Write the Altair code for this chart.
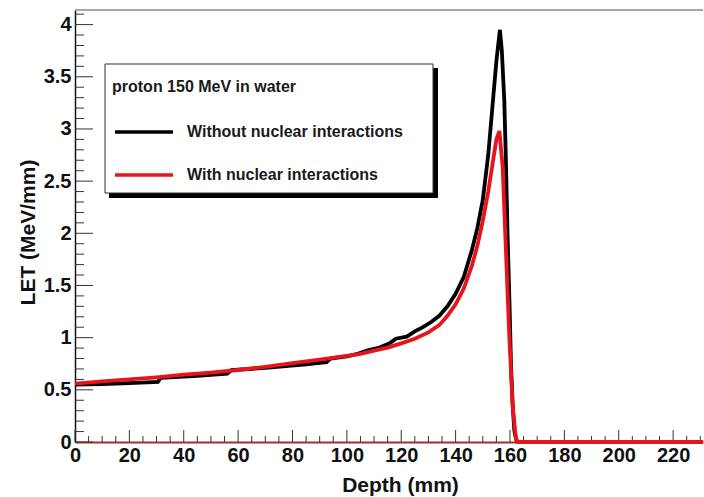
import altair as alt
import pandas as pd

# ---- data ----
depth_black = [0, 10, 20, 30.5, 31.5, 45, 56, 57.5, 70, 85, 92.5, 94, 100, 104, 108, 112,
               116, 118, 122, 125, 128, 131, 134, 137, 140, 143, 146, 148, 150, 152, 153.5,
               155, 156.3, 157, 157.9, 158.5, 159.1, 159.8, 160.4, 161, 161.6, 162.3, 163, 231]
let_black = [0.55, 0.555, 0.565, 0.575, 0.615, 0.635, 0.655, 0.69, 0.71, 0.745, 0.765, 0.80,
             0.82, 0.845, 0.88, 0.905, 0.95, 0.99, 1.01, 1.06, 1.10, 1.15, 1.21, 1.30, 1.42,
             1.58, 1.84, 2.05, 2.32, 2.75, 3.2, 3.65, 3.95, 3.75, 3.28, 2.7, 2.0, 1.35, 0.72,
             0.35, 0.11, 0.02, 0.0, 0.0]

depth_red = [0, 10, 20, 30, 40, 50, 60, 70, 80, 90, 100, 105, 110, 115, 120, 125, 130, 134,
             137, 140, 143, 146, 148, 150, 152, 153.5, 155, 156.1, 157.3, 158.5, 159.7, 161,
             162.2, 163, 231]
let_red = [0.56, 0.58, 0.60, 0.62, 0.645, 0.665, 0.69, 0.72, 0.755, 0.79, 0.825, 0.845, 0.875,
           0.905, 0.945, 0.99, 1.05, 1.12, 1.21, 1.32, 1.47, 1.69, 1.88, 2.12, 2.40, 2.65, 2.90,
           2.98, 2.64, 1.84, 1.04, 0.34, 0.03, 0.0, 0.0]

x_labels = [0, 20, 40, 60, 80, 100, 120, 140, 160, 180, 200, 220]
x_minor = [v for v in range(0, 231, 5) if v % 20 != 0]
y_labels = [0, 0.5, 1, 1.5, 2, 2.5, 3, 3.5, 4]
y_minor = [round(i * 0.1, 1) for i in range(0, 42) if i % 5 != 0]

legend_title = "proton 150 MeV in water"
legend_labels = ["Without nuclear interactions", "With nuclear interactions"]
legend_colors = ["#000000", "#e8131b"]

X_DOMAIN = [0, 231]
Y_DOMAIN = [0, 4.14]
W, H = 628, 432
FONT = "Liberation Sans"

xs = alt.Scale(domain=X_DOMAIN, nice=False, zero=False)
ys = alt.Scale(domain=Y_DOMAIN, nice=False, zero=False)

black_df = pd.DataFrame({"d": depth_black, "v": let_black})
red_df = pd.DataFrame({"d": depth_red, "v": let_red})

x_axis = alt.Axis(values=x_labels, ticks=False, grid=False, domainColor="#a0302a",
                  domainWidth=2, labelFont=FONT, labelFontSize=20, labelFontWeight="bold",
                  labelColor="#111111", labelPadding=3, labelFlush=False, labelOverlap=False,
                  labelExpr="datum.value + ''",
                  title="Depth (mm)", titleFont=FONT, titleFontSize=21,
                  titleFontWeight="bold", titleColor="#111111", titleX=325, titleY=43,
                  titleBaseline="middle", titleAlign="center")
y_axis = alt.Axis(values=y_labels, ticks=False, grid=False, domainColor="#111111",
                  domainWidth=1.5, labelFont=FONT, labelFontSize=20, labelFontWeight="bold",
                  labelColor="#111111", labelPadding=4, labelFlush=False, labelOverlap=False,
                  labelExpr="datum.value + ''",
                  title="LET (MeV/mm)", titleFont=FONT, titleFontSize=21,
                  titleFontWeight="bold", titleColor="#111111", titleX=-47, titleY=222,
                  titleAngle=270, titleBaseline="middle", titleAlign="center")

base_x = alt.X("d:Q", scale=xs, axis=x_axis)
base_y = alt.Y("v:Q", scale=ys, axis=y_axis)

black_line = alt.Chart(black_df).mark_line(color=legend_colors[0], strokeWidth=3.8,
                                           interpolate="linear").encode(x=base_x, y=base_y)
red_line = alt.Chart(red_df).mark_line(color=legend_colors[1], strokeWidth=3.8,
                                       interpolate="linear").encode(x=base_x, y=base_y)

# inward ticks drawn as rules
xmaj = alt.Chart(pd.DataFrame({"d": x_labels})).mark_rule(color="#333333", strokeWidth=1).encode(
    x=alt.X("d:Q", scale=xs), y=alt.value(H), y2=alt.value(H - 12))
xmin = alt.Chart(pd.DataFrame({"d": x_minor})).mark_rule(color="#333333", strokeWidth=1).encode(
    x=alt.X("d:Q", scale=xs), y=alt.value(H), y2=alt.value(H - 6))
ymaj = alt.Chart(pd.DataFrame({"v": y_labels})).mark_rule(color="#333333", strokeWidth=1).encode(
    y=alt.Y("v:Q", scale=ys), x=alt.value(0), x2=alt.value(18))
ymin = alt.Chart(pd.DataFrame({"v": y_minor})).mark_rule(color="#333333", strokeWidth=1).encode(
    y=alt.Y("v:Q", scale=ys), x=alt.value(0), x2=alt.value(9))

# top frame line
frame_top = alt.Chart(pd.DataFrame({"a": [0]})).mark_rule(color="#888888", strokeWidth=1.5).encode(
    x=alt.value(0), x2=alt.value(W), y=alt.value(0))

# legend box (ROOT-style with shadow)
leg_shadow = alt.Chart(pd.DataFrame({"a": [0]})).mark_rect(color="#000000").encode(
    x=alt.value(34), x2=alt.value(363), y=alt.value(58), y2=alt.value(188))
leg_box = alt.Chart(pd.DataFrame({"a": [0]})).mark_rect(
    fill="#ffffff", stroke="#333333", strokeWidth=1).encode(
    x=alt.value(30), x2=alt.value(358), y=alt.value(54), y2=alt.value(183))
leg_title = alt.Chart(pd.DataFrame({"t": [legend_title]})).mark_text(
    align="left", baseline="middle", font=FONT, fontSize=16, fontWeight="bold",
    color="#1a1a1a").encode(text="t:N", x=alt.value(37), y=alt.value(77))

leg_df = pd.DataFrame({"label": legend_labels, "color": legend_colors, "row": [122, 165]})
leg_lines = alt.Chart(leg_df).mark_rule(strokeWidth=3.5).encode(
    x=alt.value(40), x2=alt.value(98), y=alt.Y("row:Q", scale=None),
    color=alt.Color("color:N", scale=None, legend=None))
leg_text = alt.Chart(leg_df).mark_text(
    align="left", baseline="middle", font=FONT, fontSize=16, fontWeight="bold",
    color="#1a1a1a").encode(text="label:N", x=alt.value(112), y=alt.Y("row:Q", scale=None))

chart = alt.layer(
    xmaj, xmin, ymaj, ymin, frame_top,
    leg_shadow, leg_box, leg_title, leg_lines, leg_text,
    black_line, red_line,
).resolve_scale(y="shared").properties(
    width=W, height=H,
    autosize=alt.AutoSizeParams(type="none"),
    padding={"left": 75, "top": 10, "right": 1, "bottom": 55},
    background="#ffffff",
).configure_view(stroke=None)

chart.save("out.html", embed_options={"renderer": "svg", "actions": False})
